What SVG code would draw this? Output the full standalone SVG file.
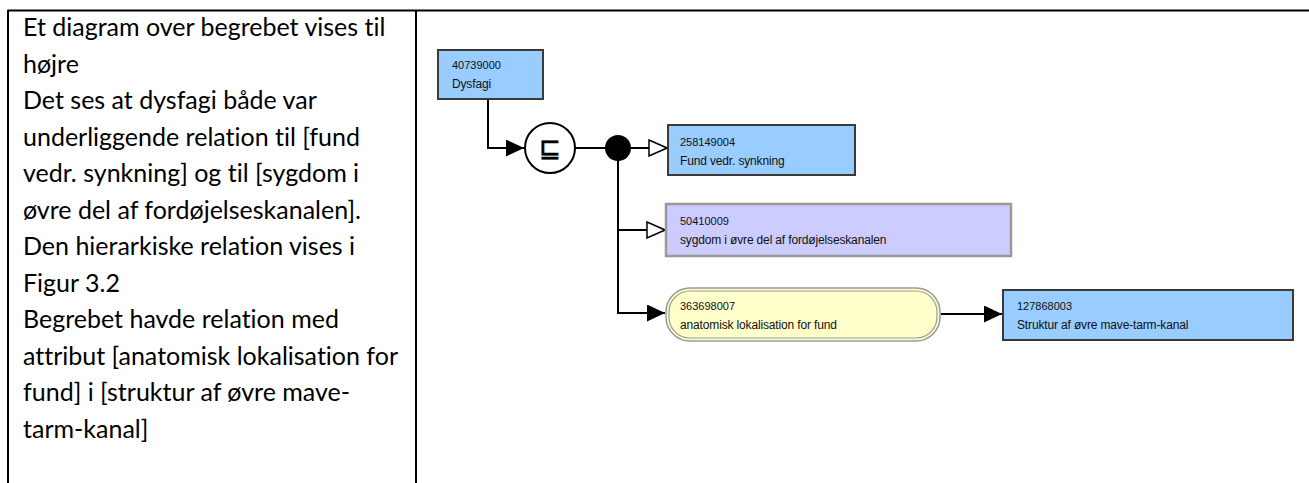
<svg xmlns="http://www.w3.org/2000/svg" width="1309" height="483" viewBox="0 0 1309 483">
  <style>
    .cell { font-family: Lato, "Open Sans", sans-serif; font-size: 25px; fill: #000; font-variant-ligatures: none; }
    .rule { stroke: #000; stroke-width: 2; fill: none; }
    .id { font-family: "Liberation Sans", Arial, sans-serif; font-size: 11px; fill: #111; }
    .lbl { font-family: "Liberation Sans", Arial, sans-serif; font-size: 12px; letter-spacing: -0.15px; fill: #111; }
    .prim { fill: #99CCFF; stroke: #3a3a3a; stroke-width: 2; }
    .defd { fill: #CCCCFF; stroke: #999; stroke-width: 2.5; }
    .attr { fill: #FFFFCC; stroke: #999; stroke-width: 1.5; }
    .attr-in { fill: none; stroke: #999; stroke-width: 1.2; }
    .wire { stroke: #000; stroke-width: 2; fill: none; }
  </style>
  <defs>
    <marker id="solid" viewBox="0 0 18 17" refX="18" refY="8.5" markerWidth="18" markerHeight="17" markerUnits="userSpaceOnUse" orient="auto">
      <path d="M0,0 L18,8.5 L0,17 Z" fill="#000"/>
    </marker>
    <marker id="hollow" viewBox="0 0 20 18" refX="19" refY="9" markerWidth="20" markerHeight="18" markerUnits="userSpaceOnUse" orient="auto">
      <path d="M1,1 L19,9 L1,17 Z" fill="#fff" stroke="#000" stroke-width="1.5"/>
    </marker>
  </defs>

  <rect x="0" y="0" width="1309" height="483" fill="#fff"/>

  <!-- table frame -->
  <g id="table">
    <path class="rule" d="M7.5,10.5 H1309 M8,10 V483 M416,10 V483"/>
  </g>

  <!-- left cell text -->
  <g id="description">
    <text class="cell" x="23" y="36">Et diagram over begrebet vises til</text>
    <text class="cell" x="23" y="72.5">højre</text>
    <text class="cell" x="23" y="109">Det ses at dysfagi både var</text>
    <text class="cell" x="23" y="145.5">underliggende relation til [fund</text>
    <text class="cell" x="23" y="182">vedr. synkning] og til [sygdom i</text>
    <text class="cell" x="23" y="218.5">øvre del af fordøjelseskanalen].</text>
    <text class="cell" x="23" y="255">Den hierarkiske relation vises i</text>
    <text class="cell" x="23" y="291.5">Figur 3.2</text>
    <text class="cell" x="23" y="328">Begrebet havde relation med</text>
    <text class="cell" x="23" y="364.5">attribut [anatomisk lokalisation for</text>
    <text class="cell" x="23" y="401">fund] i [struktur af øvre mave-</text>
    <text class="cell" x="23" y="437.5">tarm-kanal]</text>
  </g>

  <!-- connectors -->
  <g id="connectors">
    <path class="wire" d="M488,99 V148 H524" marker-end="url(#solid)"/>
    <line class="wire" x1="575" y1="148" x2="606" y2="148"/>
    <line class="wire" x1="630" y1="148" x2="667" y2="148" marker-end="url(#hollow)"/>
    <line class="wire" x1="618" y1="150" x2="618" y2="313"/>
    <line class="wire" x1="617" y1="230" x2="665" y2="230" marker-end="url(#hollow)"/>
    <path class="wire" d="M617,313 H665" marker-end="url(#solid)"/>
    <line class="wire" x1="941" y1="314" x2="1002" y2="314" marker-end="url(#solid)"/>
  </g>

  <!-- concept: Dysfagi -->
  <g id="n-40739000">
    <rect class="prim" x="438" y="50" width="105" height="49"/>
    <text class="id" x="452" y="69">40739000</text>
    <text class="lbl" x="452" y="88">Dysfagi</text>
  </g>

  <!-- subsumption operator -->
  <g id="op-subsumes">
    <circle cx="550" cy="148" r="25" fill="#fff" stroke="#000" stroke-width="2"/>
    <text x="550" y="157" text-anchor="middle" font-family="'DejaVu Sans', sans-serif" font-size="26" stroke="#000" stroke-width="0.6" fill="#000">⊑</text>
  </g>

  <!-- conjunction point -->
  <g id="op-and">
    <circle cx="618" cy="148" r="13" fill="#000"/>
  </g>

  <g id="n-258149004">
    <rect class="prim" x="668" y="125" width="187" height="50"/>
    <text class="id" x="680" y="146">258149004</text>
    <text class="lbl" x="680" y="165">Fund vedr. synkning</text>
  </g>

  <g id="n-50410009">
    <rect class="defd" x="666" y="204" width="345" height="52"/>
    <text class="id" x="680" y="225">50410009</text>
    <text class="lbl" x="680" y="244">sygdom i øvre del af fordøjelseskanalen</text>
  </g>

  <g id="n-363698007">
    <rect class="attr" x="666" y="288" width="274" height="53" rx="24" ry="24"/>
    <rect class="attr-in" x="669" y="291" width="268" height="47" rx="21" ry="21"/>
    <text class="id" x="680" y="310">363698007</text>
    <text class="lbl" x="680" y="329">anatomisk lokalisation for fund</text>
  </g>

  <g id="n-127868003">
    <rect class="prim" x="1003" y="290" width="290" height="50"/>
    <text class="id" x="1017" y="310">127868003</text>
    <text class="lbl" x="1017" y="329">Struktur af øvre mave-tarm-kanal</text>
  </g>
</svg>
